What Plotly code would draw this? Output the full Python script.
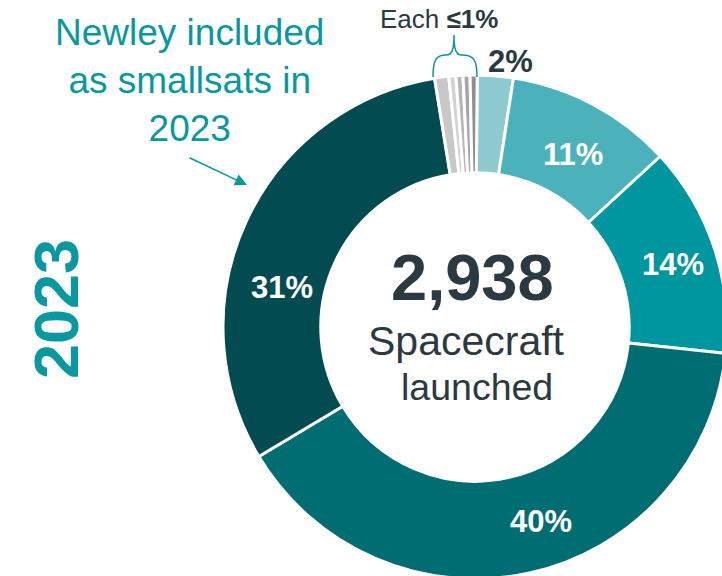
import plotly.graph_objects as go

# ---- data ----
slice_names = ["2%", "11%", "14%", "40%", "31%", "s1", "s2", "s3", "s4", "s5"]
slice_values = [2.3, 10.7, 13.5, 39.7, 31.0, 0.9, 0.45, 0.45, 0.45, 0.45]
slice_colors = ["#8ecad0", "#4bb2bb", "#0096a0", "#006d72", "#024b51",
                "#c8c8c8", "#d2d2d2", "#b6b6b6", "#a6a6a6", "#8f8f8f"]
pct_labels = ["2%", "11%", "14%", "40%", "31%"]
total_launched = "2,938"

W, H = 730, 584
TEAL = "#0898a0"
DARK = "#2b3940"
FONT = "Liberation Sans, Arial, sans-serif"


def px(x, y):
    return x / W, 1 - y / H


fig = go.Figure()
fig.add_trace(go.Pie(
    labels=slice_names,
    values=slice_values,
    sort=False,
    direction="clockwise",
    rotation=0.5,
    hole=0.612,
    textinfo="none",
    hoverinfo="label+percent",
    marker=dict(colors=slice_colors, line=dict(color="white", width=3)),
    domain=dict(x=[223 / W, 727 / W], y=[(H - 579) / H, (H - 75) / H]),
    showlegend=False,
))

annotations = []


def add_text(text, x, y, size, color, bold=False, angle=0):
    ax, ay = px(x, y)
    annotations.append(dict(
        text=f"<b>{text}</b>" if bold else text,
        x=ax, y=ay, xref="paper", yref="paper",
        xanchor="center", yanchor="middle", showarrow=False,
        textangle=angle,
        font=dict(family=FONT, size=size, color=color),
    ))


# percentage labels
label_pos = [(510, 62, DARK), (573, 154, "white"), (673, 264, "white"),
             (541, 521, "white"), (282, 287, "white")]
for lab, (x, y, c) in zip(pct_labels, label_pos):
    add_text(lab, x, y, 31, c, bold=True)

add_text(total_launched, 473, 277, 65, DARK, bold=True)
add_text("Spacecraft", 466, 341, 41, DARK)
add_text("launched", 477, 387, 37.5, DARK)
add_text("Each <b>≤1%</b>", 439, 19, 26, DARK)
add_text("2023", 56, 309, 63, TEAL, bold=True, angle=-90)
add_text("Newley included<br>as smallsats in<br>2023", 189, 80, 37, TEAL)

# arrow
hx, hy = px(247, 185)
annotations.append(dict(
    x=hx, y=hy, xref="paper", yref="paper", text="", showarrow=True,
    ax=188 - 247, ay=157 - 185, arrowhead=2, arrowsize=1.6, arrowwidth=1.5,
    arrowcolor=TEAL,
))

# brace over the small slices
pts = [(433, 77), (433, 60), (436, 55), (446, 55), (452, 55), (454, 50), (454, 35),
       (454, 50), (456, 55), (462, 55), (474, 55), (477, 60), (477, 77)]
p = [px(*q) for q in pts]
path = (f"M {p[0][0]} {p[0][1]} C {p[1][0]} {p[1][1]} {p[2][0]} {p[2][1]} {p[3][0]} {p[3][1]} "
        f"C {p[4][0]} {p[4][1]} {p[5][0]} {p[5][1]} {p[6][0]} {p[6][1]} "
        f"C {p[7][0]} {p[7][1]} {p[8][0]} {p[8][1]} {p[9][0]} {p[9][1]} "
        f"C {p[10][0]} {p[10][1]} {p[11][0]} {p[11][1]} {p[12][0]} {p[12][1]}")

fig.update_layout(
    width=W, height=H,
    margin=dict(l=0, r=0, t=0, b=0),
    paper_bgcolor="white", plot_bgcolor="white",
    annotations=annotations,
    shapes=[dict(type="path", path=path, xref="paper", yref="paper",
                 line=dict(color=TEAL, width=1.5))],
)

fig.write_html("out.html",
               config={"displayModeBar": False},
               post_script="document.body.style.margin='0';document.body.style.overflow='hidden';")
